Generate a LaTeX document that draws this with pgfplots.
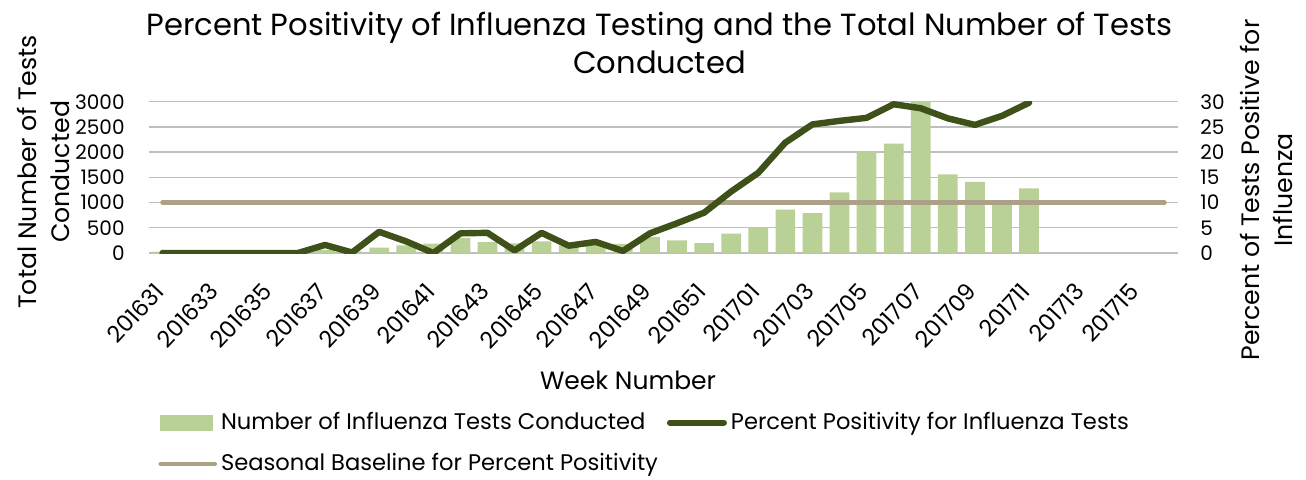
\documentclass[border=0pt]{standalone}
\usepackage{fontspec}
\setmainfont{Poppins}
\usepackage{pgfplots}
\pgfplotsset{compat=1.18}
\usepackage{pgfplotstable}
\definecolor{barc}{HTML}{B9D196}
\definecolor{linec}{HTML}{3D5119}
\definecolor{basec}{HTML}{ABA187}
\definecolor{gridc}{HTML}{BFBFBF}
\pgfplotstableread{
i tests pct
0 25 0
1 10 0
2 10 0
3 10 0
4 10 0
5 15 0
6 60 1.6
7 30 0.1
8 105 4.2
9 150 2.3
10 185 0
11 300 3.9
12 218 4.0
13 192 0.5
14 230 4.0
15 150 1.45
16 180 2.2
17 180 0.4
18 320 3.9
19 251 5.9
20 198 8.0
21 383 12.2
22 502 15.9
23 859 21.9
24 793 25.5
25 1203 26.2
26 2016 26.8
27 2167 29.5
28 3050 28.7
29 1560 26.7
30 1408 25.4
31 1020 27.2
32 1282 29.8
}\data
\begin{document}
\begin{tikzpicture}
\pgfplotsset{
  base/.style={
    scale only axis, width=514.5pt, height=75.65pt,
    at={(74.5pt,113pt)}, anchor=south west,
    xmin=-0.5, xmax=37.5, ymin=0,
    axis line style={draw=none}, tick style={draw=none},
    /pgf/number format/assume math mode=true,
    /pgf/number format/1000 sep={},
    scaled y ticks=false,
    tick label style={font=\fontsize{10}{12}\selectfont},
  }
}
\begin{axis}[base, ymax=3000, ytick={0,500,...,3000},
  ymajorgrids, grid style={gridc, line width=0.65pt},
  xtick={0,2,...,36},
  xticklabels={201631,201633,201635,201637,201639,201641,201643,201645,201647,201649,201651,201701,201703,201705,201707,201709,201711,201713,201715},
  xticklabel style={xshift=-1.5pt, yshift=-17pt, rotate=47, anchor=east, inner sep=0pt, font=\fontsize{11.5}{13}\selectfont},
  yticklabel style={anchor=east, inner sep=0pt, xshift=-12pt},
  ylabel={Total Number of Tests\\Conducted},
  every axis y label/.style={at={(rel axis cs:0,0.5)}, xshift=-53pt, yshift=2.7pt, rotate=90, anchor=center, align=center, font=\fontsize{12.6}{16.5}\selectfont},
  xlabel={Week Number},
  every axis x label/.style={at={(rel axis cs:0.5,0)}, xshift=-17.75pt, yshift=-63.5pt, anchor=center, font=\fontsize{12.5}{14}\selectfont},
  title={Percent Positivity of Influenza Testing and the Total Number of Tests\\Conducted},
  title style={at={(rel axis cs:0.5,1)}, anchor=south, inner sep=0pt, xshift=-2pt, yshift=7.6pt, align=center, font=\fontsize{15.3}{19}\selectfont},
  ]
\addplot[ybar, bar width=9.85pt, fill=barc, draw=none] table[x=i,y=tests]{\data};
\end{axis}
\begin{axis}[base, ymax=30, ytick={0,5,...,30}, xtick=\empty,
  yticklabel pos=right,
  yticklabel style={anchor=west, inner sep=0pt, xshift=11pt},
  ylabel={Percent of Tests Positive for\\Influenza},
  every axis y label/.style={at={(rel axis cs:1,0.5)}, xshift=44pt, yshift=-6.3pt, rotate=90, anchor=center, align=center, font=\fontsize{12.6}{16.5}\selectfont},
  legend columns=2,
  legend style={at={(0,0)}, anchor=north west, xshift=4.5pt, yshift=-77.5pt, draw=none, fill=none, inner sep=0pt,
    font=\fontsize{11.3}{14}\selectfont, cells={anchor=west}, row sep=6.5pt,
    /tikz/every even column/.append style={column sep=2.5pt}},
  ]
\addlegendimage{legend image code/.code={\fill[barc] (0pt,-3.75pt) rectangle (26pt,3.75pt);}}
\addlegendentry{Number of Influenza Tests Conducted}
\addplot[basec, line width=2.3pt, line cap=round, forget plot] coordinates {(0,10) (37,10)};
\addplot[linec, line width=3.2pt, line join=round, line cap=round,
  legend image code/.code={\draw[linec, line width=3pt, line cap=round] (0pt,0pt) -- (27pt,0pt);}] table[x=i,y=pct]{\data};
\addlegendentry{Percent Positivity for Influenza Tests}
\addlegendimage{legend image code/.code={\draw[basec, line width=2.3pt, line cap=round] (0pt,0pt) -- (27pt,0pt);}}
\addlegendentry{Seasonal Baseline for Percent Positivity}
\end{axis}
\pgfresetboundingbox
\useasboundingbox (0,0) rectangle (653pt,239.5pt);
\end{tikzpicture}
\end{document}
